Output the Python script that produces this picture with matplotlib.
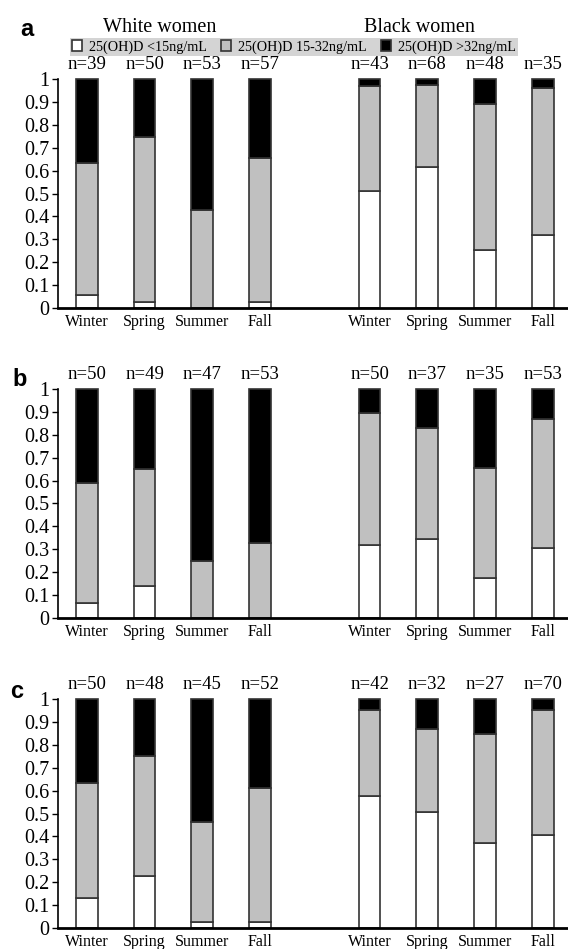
import matplotlib
matplotlib.use("Agg")
import matplotlib.pyplot as plt
import numpy as np

plt.rcParams["font.family"] = ["Liberation Serif", "DejaVu Serif"]

seasons = ["Winter", "Spring", "Summer", "Fall"]
panels = ["a", "b", "c"]

# share of women with 25(OH)D < 15 (white part) and 15-32 (grey part); rest is >32
white_low = [[0.055, 0.026, 0.0, 0.026],
             [0.064, 0.141, 0.0, 0.0],
             [0.130, 0.228, 0.028, 0.028]]
white_mid = [[0.577, 0.723, 0.427, 0.631],
             [0.525, 0.509, 0.250, 0.329],
             [0.504, 0.523, 0.436, 0.585]]
black_low = [[0.512, 0.618, 0.254, 0.317],
             [0.318, 0.347, 0.173, 0.305],
             [0.575, 0.505, 0.370, 0.406]]
black_mid = [[0.457, 0.356, 0.636, 0.642],
             [0.575, 0.483, 0.481, 0.562],
             [0.378, 0.366, 0.479, 0.546]]
white_n = [[39, 50, 53, 57], [50, 49, 47, 53], [50, 48, 45, 52]]
black_n = [[43, 68, 48, 35], [50, 37, 35, 53], [42, 32, 27, 70]]

legend_labels = ["25(OH)D <15ng/mL", "25(OH)D 15-32ng/mL", "25(OH)D >32ng/mL"]
colors = ["white", "#c0c0c0", "black"]

fig = plt.figure(figsize=(5.68, 9.49), dpi=100)

x_white = np.arange(4)
x_black = np.arange(4) + 4.9
xs = np.concatenate([x_white, x_black])
bottoms = [0.6754, 0.3488, 0.0221]
letter_pos = [(20, 29), (12, 379), (10, 691)]  # pixel positions of panel letters

handles = []
for i, p in enumerate(panels):
    ax = fig.add_axes([0.102, bottoms[i], 0.898, 0.2413])
    low = np.array(white_low[i] + black_low[i])
    mid = np.array(white_mid[i] + black_mid[i])
    high = 1 - low - mid
    b1 = ax.bar(xs, low, width=0.38, color=colors[0], edgecolor="#333333", linewidth=1.2, clip_on=False)
    b2 = ax.bar(xs, mid, width=0.38, bottom=low, color=colors[1], edgecolor="#333333", linewidth=1.2, clip_on=False)
    b3 = ax.bar(xs, high, width=0.38, bottom=low + mid, color=colors[2], edgecolor="#333333", linewidth=1.2, clip_on=False)
    if i == 0:
        handles = [b1, b2, b3]

    ax.set_xlim(-0.5, 8.34)
    ax.set_ylim(0, 1)
    ax.set_yticks(np.arange(0, 1.01, 0.1))
    ax.set_yticklabels(["0"] + ["%.1f" % v for v in np.arange(0.1, 0.95, 0.1)] + ["1"], fontsize=14.5)
    ax.tick_params(axis="y", direction="out", length=4, width=1, pad=2)
    ax.set_xticks(xs)
    ax.set_xticklabels(seasons * 2, fontsize=11.5)
    ax.tick_params(axis="x", length=0, pad=4)
    ax.spines["top"].set_visible(False)
    ax.spines["right"].set_visible(False)
    ax.spines["bottom"].set_linewidth(2)
    ax.spines["left"].set_linewidth(1.2)

    n_all = white_n[i] + black_n[i]
    for x, n in zip(xs, n_all):
        ax.text(x, 1.025, "n=%d" % n, ha="center", va="bottom", fontsize=13.5)

    lx, ly = letter_pos[i]
    fig.text(lx / 568, 1 - ly / 949, p, fontsize=17, fontweight="bold",
             family="Liberation Sans", ha="left", va="center")

fig.text(160 / 568, 1 - 28 / 949, "White women", fontsize=14.5, ha="center", va="center")
fig.text(419 / 568, 1 - 28 / 949, "Black women", fontsize=14.5, ha="center", va="center")

leg = fig.legend(handles, legend_labels, ncol=3, loc="center", bbox_to_anchor=(0.517, 0.9505),
                 fontsize=10.2, frameon=True, facecolor="#d4d4d4", edgecolor="none", fancybox=False,
                 handlelength=0.75, handleheight=0.75, handletextpad=0.45, columnspacing=1.0,
                 borderpad=0.15, borderaxespad=0)
leg.get_frame().set_alpha(1)

fig.savefig("out.png", dpi=100)
